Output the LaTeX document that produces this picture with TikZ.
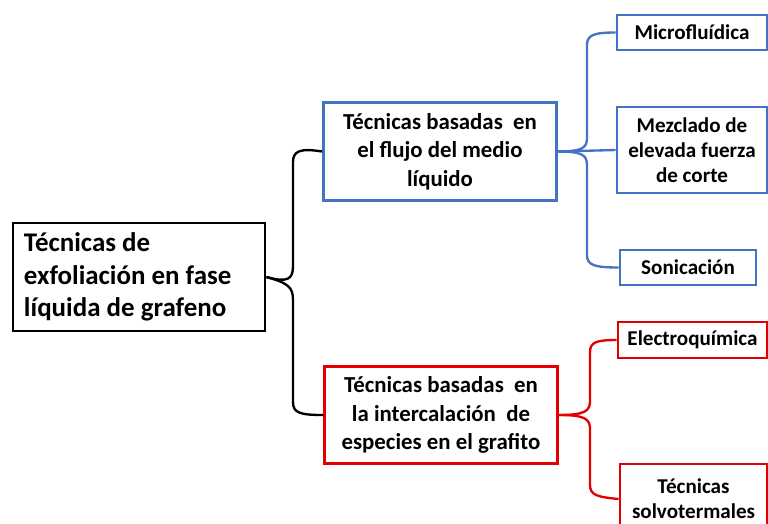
\documentclass[tikz,border=0pt]{standalone}
\usepackage{fontspec}
\setmainfont{Carlito}
\usepackage{tikz}

\definecolor{ramaazul}{RGB}{68,114,196}
\definecolor{ramaroja}{RGB}{228,0,0}

\begin{document}
\begin{tikzpicture}[x=0.03cm, y=-0.03cm, line width=2pt,
    raiz/.style = {draw=black, line width=2.4pt, align=flush left, inner sep=0pt,
        minimum width=7.56cm, minimum height=3.24cm, text width=6.9cm,
        font=\bfseries\fontsize{23}{28}\selectfont},
    rama/.style = {draw=#1, line width=2.4pt, align=center, inner sep=0pt,
        minimum width=6.98cm, minimum height=2.92cm,
        font=\bfseries\fontsize{19.5}{24.5}\selectfont},
    hoja/.style = {draw=#1, line width=2.4pt, align=center, inner sep=0pt,
        font=\bfseries\fontsize{18}{21.5}\selectfont},
    llave/.style = {draw=#1, line width=2pt}]
    \clip (0,0) rectangle (768,523);
    % nodos
    \node[raiz] (raiz) at (139,277) {T\'ecnicas de\\exfoliaci\'on en fase\\l\'iquida de grafeno};
    \node[rama=ramaazul] (flujo) at (440,151.5) {T\'ecnicas basadas\ \ en\\el flujo del medio\\l\'iquido};
    \node[rama=ramaroja] (inter) at (441,415) {T\'ecnicas basadas\ \ en\\la intercalaci\'on\ \ de\\especies en el grafito};
    \node[hoja=ramaazul, minimum width=4.5cm, minimum height=1.05cm] (micro) at (692,32.5) {Microflu\'idica};
    \node[hoja=ramaazul, minimum width=4.5cm, minimum height=2.58cm] (mezcla) at (692,150) {Mezclado de\\elevada fuerza\\de corte};
    \node[hoja=ramaazul, minimum width=4.08cm, minimum height=1.05cm] (sonic) at (688,267.5) {Sonicaci\'on};
    \node[hoja=ramaroja, minimum width=4.47cm, minimum height=1.08cm] (electro) at (692.5,340) {Electroqu\'imica};
    \node[hoja=ramaroja, minimum width=4.41cm, minimum height=2.1cm] (solvo) at (693.5,499) {T\'ecnicas\\solvotermales};
    % llaves
    \draw[llave=black] (raiz.east) .. controls (288,283) and (293,279) .. (293,266) -- (293,162)
        .. controls (293,151) and (300,148) .. (flujo.west);
    \draw[llave=black] (raiz.east) .. controls (288,283) and (293,287) .. (293,300) -- (293,402)
        .. controls (293,413) and (300,415) .. (inter.west);
    \draw[llave=ramaazul] (flujo.east) .. controls (582,151.5) and (587,148) .. (587,138) -- (587,45)
        .. controls (587,35) and (594,32.5) .. (micro.west);
    \draw[llave=ramaazul] (flujo.east) .. controls (582,151.5) and (587,155) .. (587,165) -- (587,255)
        .. controls (587,265) and (594,267.5) .. (sonic.west);
    \draw[llave=ramaazul] (flujo.east) -- (mezcla.west);
    \draw[llave=ramaroja] (inter.east) .. controls (585,415) and (590,411) .. (590,401) -- (590,352)
        .. controls (590,342) and (597,340) .. (electro.west);
    \draw[llave=ramaroja] (inter.east) .. controls (585,415) and (590,419) .. (590,429) -- (590,485)
        .. controls (590,495) and (597,497) .. (solvo.west);
\end{tikzpicture}
\end{document}
